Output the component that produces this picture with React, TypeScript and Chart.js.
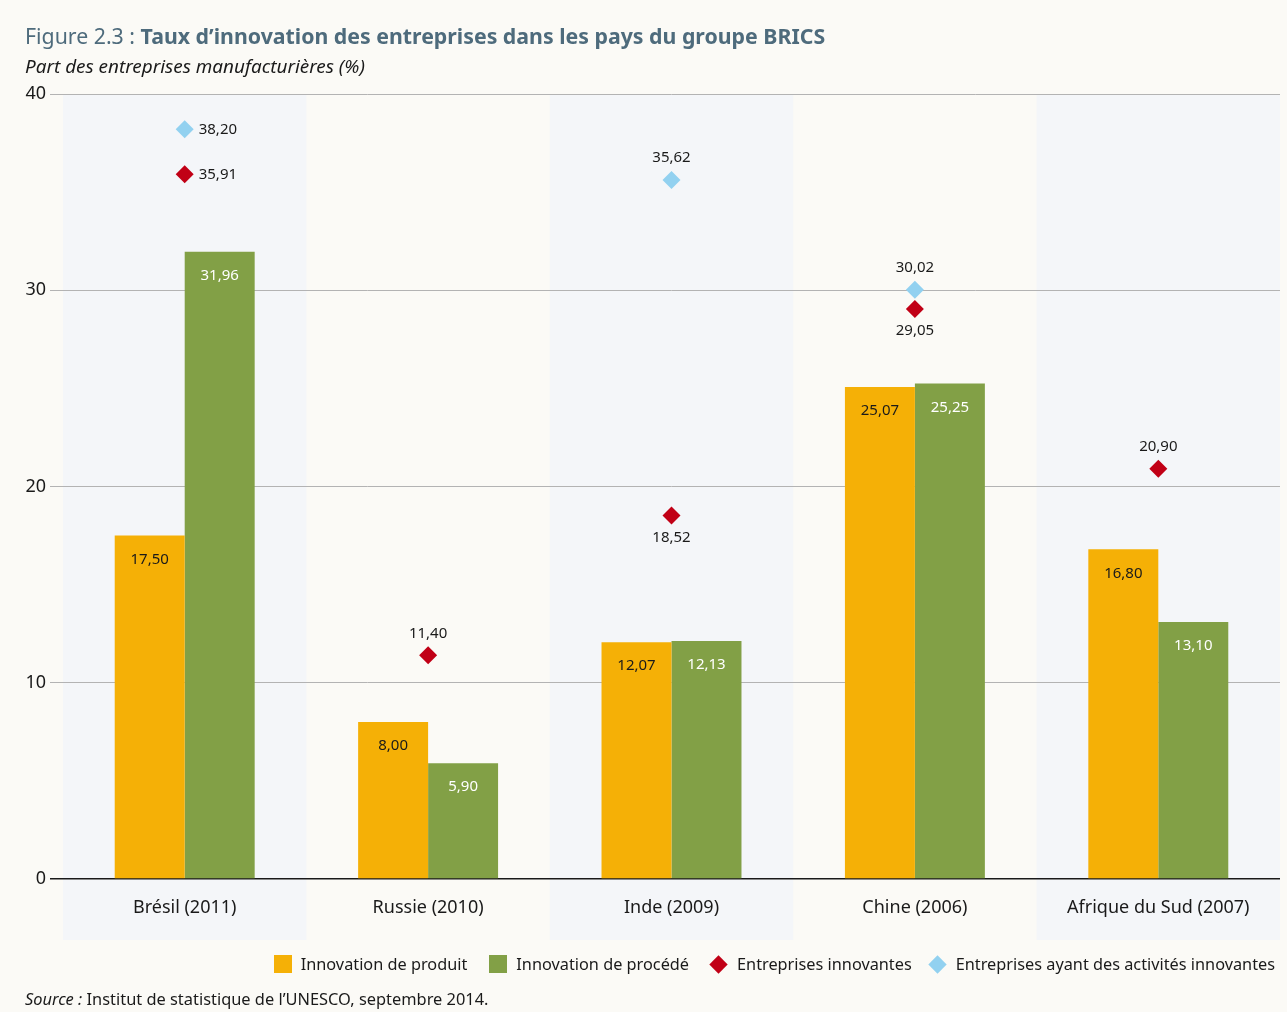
import React, { useEffect, useRef } from "react";
import { Chart, registerables } from "chart.js";
Chart.register(...registerables);

const categories = ["Brésil (2011)", "Russie (2010)", "Inde (2009)", "Chine (2006)", "Afrique du Sud (2007)"];
const produit = [17.5, 8.0, 12.07, 25.07, 16.8];
const procede = [31.96, 5.9, 12.13, 25.25, 13.1];
const innovantes = [35.91, 11.4, 18.52, 29.05, 20.9];
const activites: (number | null)[] = [38.2, null, 35.62, 30.02, null];
const yTicks = [0, 10, 20, 30, 40];
const seriesNames = [
  "Innovation de produit",
  "Innovation de procédé",
  "Entreprises innovantes",
  "Entreprises ayant des activités innovantes",
];
const innovantesLabelPos = ["right", "above", "below", "below", "above"];
const activitesLabelPos = ["right", "above", "above", "above", "above"];

const COLORS = ["#F5B006", "#82A046", "#C10016", "#92D1F0"];
const FONT = '"Noto Sans", "Open Sans", sans-serif';
const fmt = (v: number) => v.toFixed(2).replace(".", ",");

const bandsPlugin = {
  id: "bands",
  beforeDraw(chart: any) {
    const { ctx, chartArea } = chart;
    const x = chart.scales.x;
    const w = (chartArea.right - chartArea.left) / categories.length;
    ctx.save();
    ctx.fillStyle = "#F4F6F9";
    categories.forEach((_, i) => {
      if (i % 2 === 0) {
        const c = x.getPixelForValue(i);
        ctx.fillRect(c - w / 2, chartArea.top, w, chartArea.bottom - chartArea.top + 61);
      }
    });
    ctx.restore();
  },
};

const labelsPlugin = {
  id: "valueLabels",
  afterDatasetsDraw(chart: any) {
    const { ctx } = chart;
    ctx.save();
    ctx.font = `15px ${FONT}`;
    ctx.textBaseline = "middle";
    [0, 1].forEach((di) => {
      const meta = chart.getDatasetMeta(di);
      const data = chart.data.datasets[di].data as number[];
      meta.data.forEach((el: any, i: number) => {
        ctx.fillStyle = di === 0 ? "#1a1a1a" : "#ffffff";
        ctx.textAlign = "center";
        ctx.fillText(fmt(data[i]), el.x, el.y + 24);
      });
    });
    [2, 3].forEach((di) => {
      const meta = chart.getDatasetMeta(di);
      const data = chart.data.datasets[di].data as (number | null)[];
      const pos = di === 2 ? innovantesLabelPos : activitesLabelPos;
      meta.data.forEach((el: any, i: number) => {
        const v = data[i];
        if (v == null) return;
        ctx.fillStyle = "#1a1a1a";
        if (pos[i] === "right") {
          ctx.textAlign = "left";
          ctx.fillText(fmt(v), el.x + 14, el.y);
        } else if (pos[i] === "above") {
          ctx.textAlign = "center";
          ctx.fillText(fmt(v), el.x, el.y - 22);
        } else {
          ctx.textAlign = "center";
          ctx.fillText(fmt(v), el.x, el.y + 22);
        }
      });
    });
    ctx.restore();
  },
};

export default function App() {
  const ref = useRef<HTMLCanvasElement>(null);
  useEffect(() => {
    if (!ref.current) return;
    const chart = new Chart(ref.current, {
      type: "bar",
      data: {
        labels: categories,
        datasets: [
          { label: seriesNames[0], data: produit, backgroundColor: COLORS[0], barPercentage: 1, categoryPercentage: 0.575 },
          { label: seriesNames[1], data: procede, backgroundColor: COLORS[1], barPercentage: 1, categoryPercentage: 0.575 },
          {
            type: "line",
            label: seriesNames[2],
            data: innovantes,
            showLine: false,
            pointStyle: "rectRot",
            pointRadius: 9,
            pointBorderWidth: 0,
            pointBackgroundColor: COLORS[2],
            borderColor: COLORS[2],
            backgroundColor: COLORS[2],
          } as any,
          {
            type: "line",
            label: seriesNames[3],
            data: activites,
            showLine: false,
            pointStyle: "rectRot",
            pointRadius: 9,
            pointBorderWidth: 0,
            pointBackgroundColor: COLORS[3],
            borderColor: COLORS[3],
            backgroundColor: COLORS[3],
          } as any,
        ],
      },
      options: {
        animation: false,
        responsive: false,
        maintainAspectRatio: false,
        layout: { autoPadding: false, padding: { top: 94, right: 7, bottom: 72, left: 0 } },
        plugins: { legend: { display: false }, tooltip: { enabled: false } },
        scales: {
          x: {
            grid: { display: false },
            border: { display: false },
            ticks: { font: { family: FONT, size: 18 }, color: "#1a1a1a", padding: 10 },
            afterFit: (s: any) => {
              s.height = 61;
              s.paddingLeft = 0;
              s.paddingRight = 0;
            },
          },
          y: {
            min: 0,
            max: 40,
            afterBuildTicks: (s: any) => {
              s.ticks = yTicks.map((v) => ({ value: v }));
            },
            grid: {
              color: (c: any) => (c.tick && c.tick.value === 0 ? "#1a1a1a" : "#b3b3b3"),
              lineWidth: (c: any) => (c.tick && c.tick.value === 0 ? 1.5 : 1),
              tickLength: 13,
              drawTicks: true,
            },
            border: { display: false },
            ticks: { font: { family: FONT, size: 18 }, color: "#1a1a1a", padding: 4 },
            afterFit: (s: any) => {
              s.width = 63;
            },
          },
        },
      },
      plugins: [bandsPlugin, labelsPlugin],
    });
    return () => chart.destroy();
  }, []);

  const sq = (color: string) => (
    <span style={{ display: "inline-block", width: 18, height: 18, background: color, marginRight: 9 }} />
  );
  const dm = (color: string) => (
    <span style={{ display: "inline-block", width: 13, height: 13, background: color, transform: "rotate(45deg)", marginLeft: 3, marginRight: 12 }} />
  );

  return (
    <div
      style={{
        position: "absolute",
        left: 0,
        top: 0,
        width: 1287,
        height: 1012,
        background: "#FBFAF6",
        overflow: "hidden",
        fontFamily: FONT,
      }}
    >
      <canvas ref={ref} width={1287} height={1012} style={{ position: "absolute", left: 0, top: 0 }} />
      <div style={{ position: "absolute", left: 25, top: 21, fontSize: 21.3, color: "#4E6B7C", whiteSpace: "nowrap" }}>
        <span>Figure 2.3 : </span>
        <span style={{ fontWeight: 700 }}>Taux d’innovation des entreprises dans les pays du groupe BRICS</span>
      </div>
      <div style={{ position: "absolute", left: 25, top: 53, fontSize: 18.9, fontStyle: "italic", color: "#1a1a1a", whiteSpace: "nowrap" }}>
        Part des entreprises manufacturières (%)
      </div>
      <div
        style={{
          position: "absolute",
          right: 12,
          top: 953,
          fontSize: 16.3,
          color: "#1a1a1a",
          display: "flex",
          alignItems: "center",
          whiteSpace: "nowrap",
        }}
      >
        {sq(COLORS[0])}
        <span style={{ marginRight: 22 }}>{seriesNames[0]}</span>
        {sq(COLORS[1])}
        <span style={{ marginRight: 20 }}>{seriesNames[1]}</span>
        {dm(COLORS[2])}
        <span style={{ marginRight: 16 }}>{seriesNames[2]}</span>
        {dm(COLORS[3])}
        <span>{seriesNames[3]}</span>
      </div>
      <div style={{ position: "absolute", left: 25, top: 987, fontSize: 16.4, color: "#1a1a1a", whiteSpace: "nowrap" }}>
        <span style={{ fontStyle: "italic" }}>Source :</span> Institut de statistique de l’UNESCO, septembre 2014.
      </div>
    </div>
  );
}
